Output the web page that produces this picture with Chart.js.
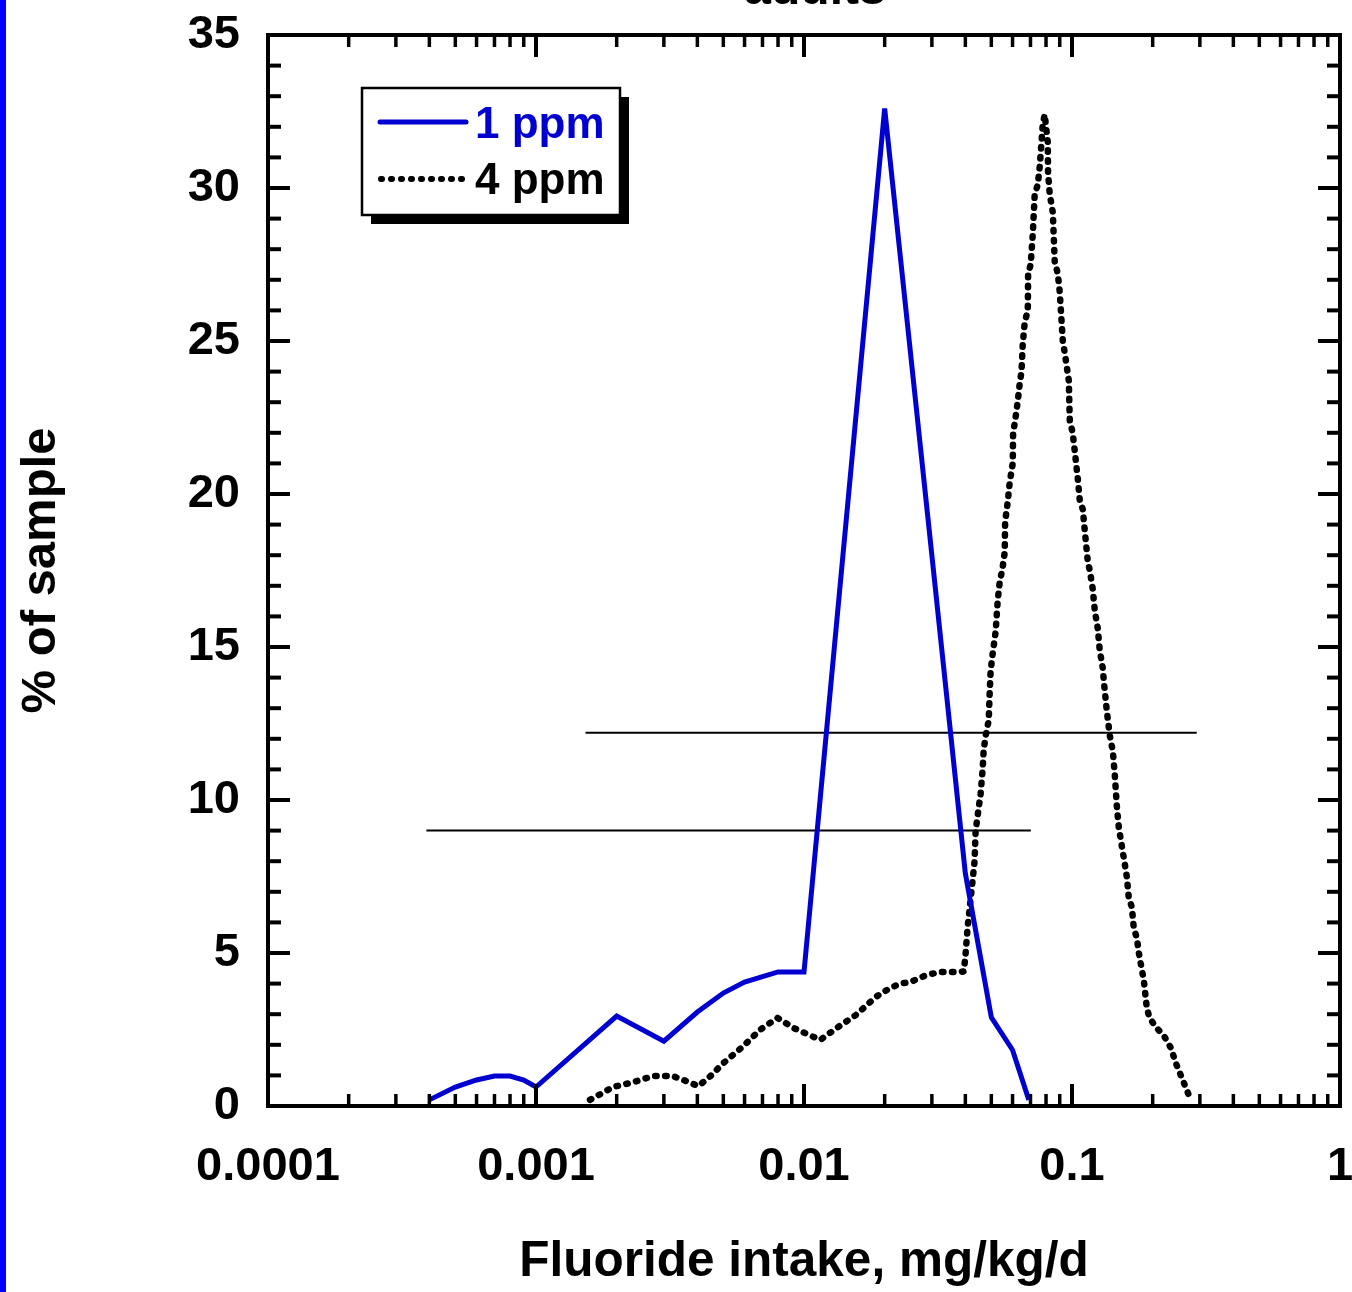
<!DOCTYPE html>
<html>
<head>
<meta charset="utf-8">
<script src="https://cdn.jsdelivr.net/npm/chart.js@4.4.1/dist/chart.umd.min.js"></script>
<style>
  html, body { margin: 0; padding: 0; background: #fff; }
  #wrap { position: relative; width: 1352px; height: 1292px; overflow: hidden; }
  #edge { position: absolute; left: 0; top: 0; width: 6px; height: 1292px; background: #0000ff; }
</style>
</head>
<body>
<div id="wrap">
  <canvas id="chart" width="1352" height="1292"></canvas>
  <div id="edge"></div>
</div>
<script>
const chartTitle = 'adults';
const xTickValues = [0.0001, 0.001, 0.01, 0.1, 1];
const xTickLabels = ['0.0001', '0.001', '0.01', '0.1', '1'];

// 1 ppm
const ppm1Intake = [0.0004, 0.0005, 0.0006, 0.0007, 0.0008, 0.0009, 0.001, 0.002, 0.003, 0.004,
  0.005, 0.006, 0.008, 0.01, 0.02, 0.03, 0.04, 0.05, 0.06, 0.069];
const ppm1Percent = [0.2, 0.62, 0.85, 0.98, 0.98, 0.85, 0.62, 2.94, 2.12, 3.07,
  3.69, 4.05, 4.38, 4.38, 32.6, 18.0, 7.6, 2.9, 1.83, 0.2];

// 4 ppm
const ppm4Intake = [0.00159, 0.00194, 0.00231, 0.00274, 0.00323, 0.00355, 0.00404, 0.00448, 0.0050, 0.00589,
  0.00688, 0.00796, 0.00914, 0.0115, 0.0135, 0.0156, 0.0185, 0.0210, 0.0229, 0.0250,
  0.0272, 0.0292, 0.0324, 0.0384, 0.0395, 0.0401, 0.0408, 0.0419, 0.0426, 0.0433,
  0.0437, 0.0448, 0.0456, 0.0464, 0.0468, 0.0476, 0.0489, 0.0493, 0.0497, 0.0506,
  0.0519, 0.0528, 0.0537, 0.0551, 0.0561, 0.0563, 0.0575, 0.0586, 0.0601, 0.0603,
  0.0611, 0.0627, 0.0638, 0.0648, 0.0655, 0.0666, 0.0684, 0.0686, 0.0701, 0.0714,
  0.0726, 0.0745, 0.0758, 0.0778, 0.0791, 0.0812, 0.0814, 0.0826, 0.0848, 0.0862,
  0.0885, 0.0900, 0.0924, 0.0940, 0.0973, 0.0981, 0.1006, 0.1024, 0.1051, 0.1069,
  0.1097, 0.1116, 0.1145, 0.1165, 0.1195, 0.1216, 0.1248, 0.1269, 0.1303, 0.1314,
  0.1349, 0.1384, 0.1420, 0.1445, 0.1470, 0.1495, 0.1534, 0.1561, 0.1601, 0.1629,
  0.1672, 0.1701, 0.1745, 0.1776, 0.1854, 0.1902, 0.1944, 0.2046, 0.2201, 0.2338,
  0.2441, 0.2548, 0.2730];
const ppm4Percent = [0.2, 0.62, 0.78, 0.98, 0.98, 0.85, 0.65, 0.98, 1.4, 1.93,
  2.5, 2.88, 2.55, 2.16, 2.6, 2.97, 3.56, 3.86, 4.0, 4.05,
  4.2, 4.3, 4.38, 4.38, 4.4, 5.0, 5.85, 6.8, 7.4, 8.0,
  9.0, 9.7, 10.2, 11.0, 11.6, 12.1, 12.6, 13.5, 14.2, 14.8,
  15.5, 16.5, 17.1, 17.6, 18.1, 19.1, 19.7, 20.4, 21.0, 22.0,
  22.3, 23.0, 23.6, 24.0, 24.9, 25.6, 26.0, 27.2, 27.5, 28.5,
  29.8, 30.1, 30.7, 32.1, 32.4, 31.5, 30.5, 29.8, 29.2, 27.6,
  27.2, 26.6, 25.0, 24.6, 23.7, 22.4, 22.0, 21.4, 20.5, 19.8,
  19.5, 18.8, 17.8, 17.5, 16.9, 16.2, 15.6, 14.9, 14.3, 13.9,
  12.9, 12.1, 11.6, 10.8, 9.8, 9.1, 8.5, 8.1, 7.5, 6.8,
  6.5, 5.8, 5.5, 5.0, 4.1, 3.2, 2.9, 2.6, 2.3, 1.9,
  1.4, 1.0, 0.35];

// range bars (min..max intake)
const range1Intake = [0.00039, 0.0702];
const range1Level = 9.0;
const range4Intake = [0.00153, 0.292];
const range4Level = 12.2;

const BLUE = '#0000d0';
const FONT = '"Liberation Sans", Arial, sans-serif';

const toPts = (xs, ys) => xs.map((v, i) => ({ x: v, y: ys[i] }));

const framePlugin = {
  id: 'frame',
  afterDraw(chart) {
    const { ctx, chartArea: a, scales: { x, y } } = chart;
    ctx.save();
    ctx.strokeStyle = '#000';
    const seg = (x1, y1, x2, y2) => { ctx.beginPath(); ctx.moveTo(x1, y1); ctx.lineTo(x2, y2); ctx.stroke(); };

    // inward ticks on all four sides
    for (let v = 0; v <= 35; v++) {
      const py = y.getPixelForValue(v);
      const len = v % 5 === 0 ? 22 : 13;
      ctx.lineWidth = 4;
      seg(a.left, py, a.left + len, py);
      seg(a.right, py, a.right - len, py);
    }
    for (let d = 0; d < xTickValues.length - 1; d++) {
      for (let k = 1; k <= 9; k++) {
        const px = x.getPixelForValue(xTickValues[d] * k);
        const len = k === 1 ? 22 : 12;
        ctx.lineWidth = k === 1 ? 4 : 3.5;
        seg(px, a.bottom, px, a.bottom - len);
        seg(px, a.top, px, a.top + len);
      }
    }
    ctx.lineWidth = 4;
    ctx.strokeRect(a.left, a.top, a.right - a.left, a.bottom - a.top);

    // legend box with drop shadow
    const bx = 362, by = 88, bw = 258, bh = 127;
    ctx.fillStyle = '#000';
    ctx.fillRect(bx + 9, by + 9, bw, bh);
    ctx.fillStyle = '#fff';
    ctx.fillRect(bx, by, bw, bh);
    ctx.lineWidth = 2.5;
    ctx.strokeRect(bx, by, bw, bh);

    const ds = chart.data.datasets;
    ctx.font = 'bold 44px ' + FONT;
    ctx.textBaseline = 'alphabetic';
    ctx.lineCap = 'round';
    // 1 ppm
    ctx.strokeStyle = ds[0].borderColor;
    ctx.lineWidth = 5;
    seg(380, 122, 466, 122);
    ctx.fillStyle = ds[0].borderColor;
    ctx.fillText(ds[0].label, 475, 138);
    // 4 ppm
    ctx.strokeStyle = ds[1].borderColor;
    ctx.lineWidth = 6;
    ctx.setLineDash([1, 9]);
    seg(381, 179, 462, 179);
    ctx.setLineDash([]);
    ctx.fillStyle = ds[1].borderColor;
    ctx.fillText(ds[1].label, 475, 194);

    // title, mostly cut off at the top edge
    ctx.font = 'bold 48px ' + FONT;
    ctx.textAlign = 'center';
    ctx.fillStyle = '#000';
    ctx.fillText(chartTitle, 815, 4);
    ctx.restore();
  }
};

new Chart(document.getElementById('chart'), {
  type: 'line',
  data: {
    datasets: [
      {
        label: '1 ppm',
        data: toPts(ppm1Intake, ppm1Percent),
        borderColor: BLUE,
        borderWidth: 5,
        pointRadius: 0,
        tension: 0
      },
      {
        label: '4 ppm',
        data: toPts(ppm4Intake, ppm4Percent),
        borderColor: '#000',
        borderWidth: 6.5,
        borderDash: [1.5, 8.5],
        borderCapStyle: 'round',
        pointRadius: 0,
        tension: 0
      },
      {
        label: 'range 1 ppm',
        data: toPts(range1Intake, [range1Level, range1Level]),
        borderColor: '#000',
        borderWidth: 2,
        pointRadius: 0
      },
      {
        label: 'range 4 ppm',
        data: toPts(range4Intake, [range4Level, range4Level]),
        borderColor: '#000',
        borderWidth: 2,
        pointRadius: 0
      }
    ]
  },
  options: {
    responsive: false,
    animation: false,
    layout: { padding: { top: 35, right: 0, bottom: 0, left: 0 } },
    plugins: {
      legend: { display: false },
      title: { display: false },
      tooltip: { enabled: false }
    },
    scales: {
      x: {
        type: 'logarithmic',
        min: 0.0001,
        max: 1,
        afterBuildTicks: (s) => { s.ticks = xTickValues.map(v => ({ value: v })); },
        afterFit: (s) => { s.height = 186; s.paddingRight = 12; },
        grid: { display: false, drawTicks: false },
        border: { display: false },
        ticks: {
          autoSkip: false,
          maxRotation: 0,
          padding: 33,
          color: '#000',
          font: { family: FONT, size: 47, weight: 'bold' },
          callback: (v) => {
            const i = xTickValues.findIndex(t => Math.abs(Math.log10(t) - Math.log10(v)) < 1e-6);
            return i >= 0 ? xTickLabels[i] : '';
          }
        },
        title: {
          display: true,
          text: 'Fluoride intake, mg/kg/d',
          color: '#000',
          font: { family: FONT, size: 49.5, weight: 'bold' },
          padding: { top: 0, bottom: 0 }
        }
      },
      y: {
        min: 0,
        max: 35,
        afterFit: (s) => { s.width = 268; s.paddingTop = 0; s.paddingBottom = 0; },
        grid: { display: false, drawTicks: false },
        border: { display: false },
        ticks: {
          stepSize: 5,
          padding: 28,
          color: '#000',
          font: { family: FONT, size: 47, weight: 'bold' }
        },
        title: {
          display: true,
          text: '% of sample',
          color: '#000',
          font: { family: FONT, size: 49, weight: 'bold' },
          padding: { top: 12, bottom: 0 }
        }
      }
    }
  },
  plugins: [framePlugin]
});
</script>
</body>
</html>
